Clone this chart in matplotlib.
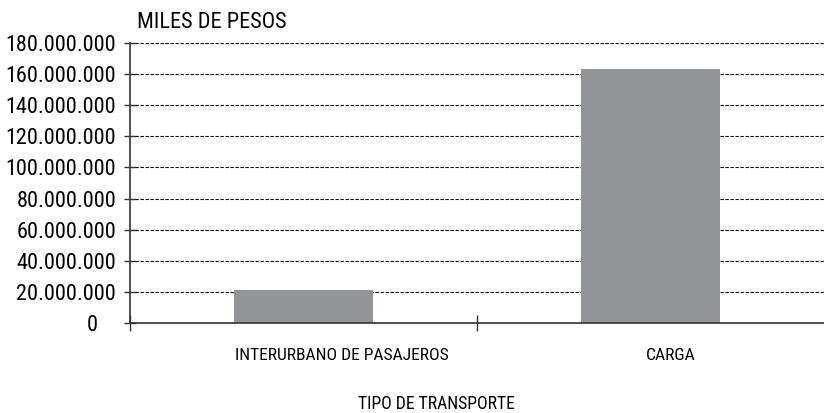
import matplotlib.pyplot as plt
from matplotlib.ticker import FuncFormatter
import matplotlib.transforms as mtransforms
import matplotlib.font_manager as fm

names = {f.name for f in fm.fontManager.ttflist}
fam = [n for n in ["Roboto Condensed", "Liberation Sans Narrow", "Archivo Narrow", "Barlow Condensed"] if n in names]
plt.rcParams['font.family'] = fam + ["DejaVu Sans"]

categorias = ["INTERURBANO DE PASAJEROS", "CARGA"]
valores = [21200000, 163300000]
yticks = list(range(0, 180000001, 20000000))

fig = plt.figure(figsize=(8.24, 4.13), dpi=100)
ax = fig.add_axes([130 / 824, 1 - 323 / 413, 694 / 824, 280 / 413])

ax.bar(range(len(categorias)), valores, width=0.4, color="#939498", zorder=2)

ax.set_xlim(-0.5, 1.5)
ax.set_ylim(0, 180000000)
ax.set_yticks(yticks)
ax.yaxis.set_major_formatter(FuncFormatter(lambda v, p: f"{int(v):,}".replace(",", ".")))
ax.grid(axis="y", color="black", linestyle=(0, (3, 1.5)), linewidth=0.8, zorder=1)

# category labels sit a bit right of the bar centres in the original
ax.set_xticks([])
offsets = [38, 20]
for i, (lab, dx) in enumerate(zip(categorias, offsets)):
    tr = ax.get_xaxis_transform() + mtransforms.ScaledTranslation(dx / 100, 0, fig.dpi_scale_trans)
    ax.text(i, -0.115, lab, transform=tr, ha="center", va="center", fontsize=12.6)
ax.set_xticks([-0.5, 0.5], minor=True)
ax.tick_params(axis="x", which="minor", direction="inout", length=12, width=1, color="#333333")
ax.tick_params(axis="y", direction="inout", length=8, width=1, color="#333333", labelsize=16, pad=6)

# the "0" label is set further left in the original
fig.canvas.draw()
zero = ax.get_yticklabels()[0]
zero.set_transform(zero.get_transform() + mtransforms.ScaledTranslation(-0.18, 0, fig.dpi_scale_trans))

for s in ["top", "right"]:
    ax.spines[s].set_visible(False)
for s in ["left", "bottom"]:
    ax.spines[s].set_color("#333333")
    ax.spines[s].set_linewidth(1.2)

fig.text(137 / 824, 1 - 22 / 413, "MILES DE PESOS", fontsize=16, va="center", ha="left")
fig.text(436 / 824, 1 - 404 / 413, "TIPO DE TRANSPORTE", fontsize=12.7, va="center", ha="center")

fig.savefig("out.png", dpi=100)
